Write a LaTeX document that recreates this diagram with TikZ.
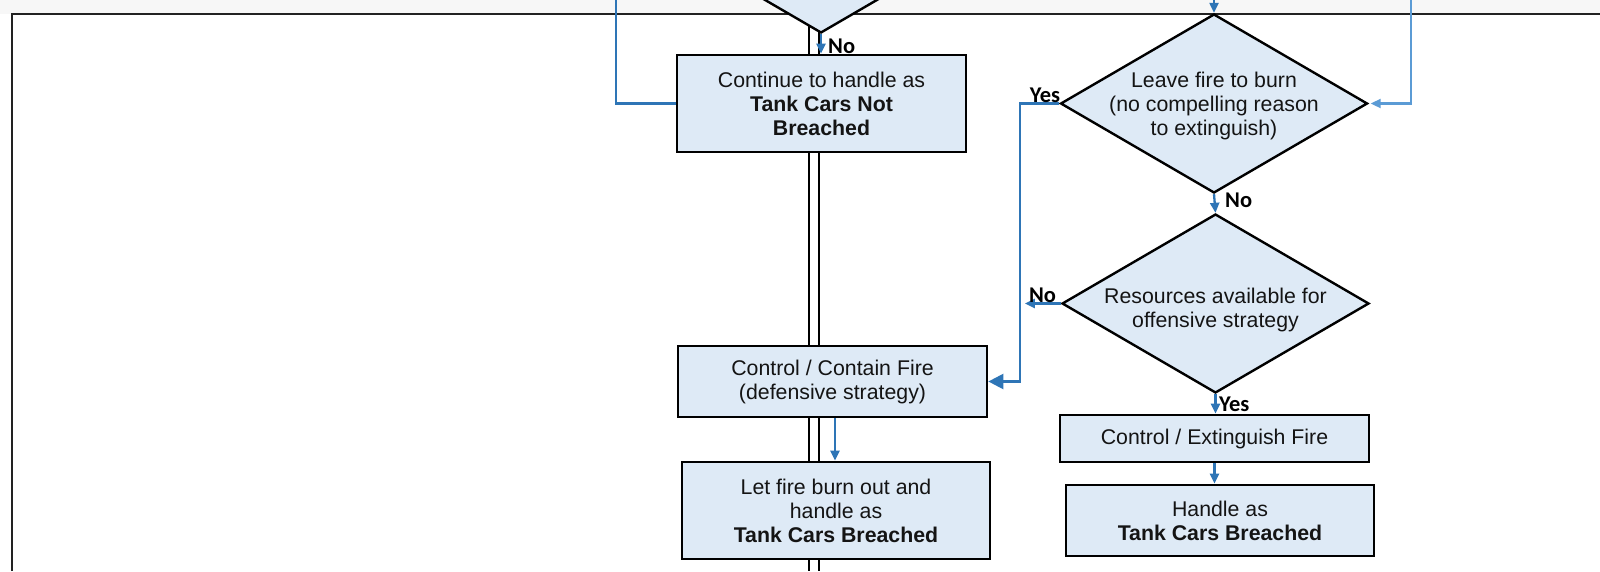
\documentclass[tikz,border=0pt]{standalone}
\usepackage{fontspec}
\setmainfont{Liberation Sans}
\newfontfamily\lblfont{Carlito}
\usetikzlibrary{shapes.geometric,arrows.meta,calc}
\definecolor{boxfill}{HTML}{DEEAF6}
\definecolor{flow}{HTML}{2E75B6}
\definecolor{flowlight}{HTML}{5B9BD5}
\definecolor{framecol}{HTML}{222222}
\begin{document}
\begin{tikzpicture}[x=1pt,y=-1pt,
  box/.style={draw=black, line width=2.7pt, fill=boxfill, inner sep=0pt,
    align=center, font=\fontsize{21.3}{24}\selectfont, text=black!92},
  dia/.style={diamond, draw=black, line width=2.4pt, fill=boxfill, inner sep=0pt,
    minimum width=307pt, minimum height=179pt},
  diatext/.style={align=center, inner sep=0pt, font=\fontsize{21.3}{24}\selectfont, text=black!92},
  lbl/.style={inner sep=0pt, font=\lblfont\bfseries\fontsize{22.5}{24}\selectfont},
  flowline/.style={draw=flow, line width=2.3pt},
  tip/.style={-{Triangle[length=10pt,width=9pt]}},
  bigtip/.style={-{Triangle[length=15pt,width=15pt]}}]

% page and background
\useasboundingbox (0,0) rectangle (1600,571);
\fill[white] (0,0) rectangle (1600,571);
\fill[black!3] (0,0) rectangle (1600,14);

% outer frame
\draw[framecol, line width=2.6pt] (12,571) -- (12,14) -- (1600,14);

% double trunk line running behind the left column
\draw[black, line width=2.2pt] (809,0) -- (809,571);
\draw[black, line width=2.2pt] (819,0) -- (819,571);

% decision shapes
\node[dia] (d0) at (821,-56.5) {};
\node[dia] (d1) at (1214,103.5) {};
\node[diatext] (t1) at (1214,106) {Leave fire to burn\\(no compelling reason\\to extinguish)};
\node[dia] (d2) at (1215.5,303.5) {};
\node[diatext] (t2) at (1215.5,309.5) {Resources available for\\offensive strategy};

% process boxes
\node[box, minimum width=289pt, minimum height=97pt] (b1) at (821.5,103.5)
  {Continue to handle as\\\textbf{Tank Cars Not}\\\textbf{Breached}};
\node[box, minimum width=309pt, minimum height=71pt] (b2) at (832.5,381.5)
  {Control / Contain Fire\\(defensive strategy)};
\node[box, minimum width=308pt, minimum height=97pt] (b3) at (836,510.5)
  {Let fire burn out and\\handle as\\\textbf{Tank Cars Breached}};
\node[box, minimum width=309pt, minimum height=47pt] (b4) at (1214.5,438.5)
  {Control / Extinguish Fire};
\node[box, minimum width=308pt, minimum height=71pt] (b5) at (1220,520.5)
  {Handle as\\\textbf{Tank Cars Breached}};

% free ends of connectors leaving the page
\coordinate (srcL) at (616,0);
\coordinate (srcT) at (1214,0);
\coordinate (srcR) at (1411,0);

% connectors
\draw[flowline, tip] (d0.south) -- (d0.south |- b1.north);
\draw[flowline] (b1.west) -| (srcL);
\draw[flowline, tip] (srcT) -- (d1.north);
\draw[draw=flowlight, line width=2.1pt, tip, shorten >=2pt] (srcR) |- (d1.east);
\draw[flowline, bigtip] (d1.west) -- ++(-39.5,0) |- (b2.east);
\draw[flowline, tip] (d1.south) -- (d2.north);
\draw[flowline, tip] (d2.west) -- ++(-36,0);
\draw[flowline, tip] (d2.south) -- (d2.south |- b4.north);
\draw[flowline, tip] (b4.south) -- (b4.south |- b5.north);
\draw[flowline, tip] ([xshift=2.5pt]b2.south) -- ([xshift=2.5pt]b2.south |- b3.north);

% branch labels
\node[lbl, anchor=west] (lNo0) at (828,46) {No};
\node[lbl] (lYes1) at (1045,95) {Yes};
\node[lbl, anchor=west] (lNo1) at (1225,200) {No};
\node[lbl] (lNo2) at (1042.5,295) {No};
\node[lbl, anchor=west] (lYes2) at (1219,404) {Yes};
\end{tikzpicture}
\end{document}
